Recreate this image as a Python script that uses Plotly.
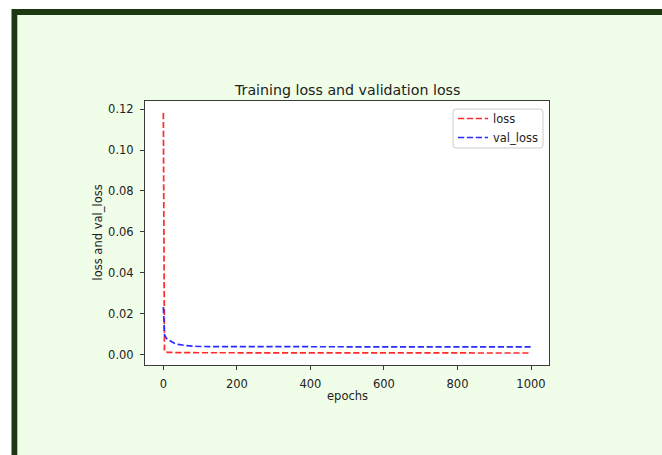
import plotly.graph_objects as go

epochs = [0, 1, 2, 3, 4, 6, 8, 12, 17, 24, 31, 40, 50, 60, 80, 100,
          150, 200, 300, 400, 500, 600, 700, 800, 900, 999]
loss = [0.1181, 0.0160, 0.0030, 0.0017, 0.0014, 0.00120, 0.00112, 0.00104,
        0.00098, 0.00094, 0.00091, 0.00089, 0.00087, 0.00086, 0.00084, 0.00083,
        0.00081, 0.00080, 0.00078, 0.00077, 0.00076, 0.00075, 0.00074, 0.00073,
        0.00072, 0.00072]
val_loss = [0.0232, 0.0135, 0.0108, 0.0098, 0.0093, 0.0086, 0.0080, 0.0074,
            0.0068, 0.0060, 0.0054, 0.0049, 0.0046, 0.0044, 0.0041, 0.0039,
            0.00385, 0.00380, 0.00378, 0.00376, 0.00375, 0.00374, 0.00373,
            0.00372, 0.00372, 0.00372]

y_ticks = [0.00, 0.02, 0.04, 0.06, 0.08, 0.10, 0.12]
x_ticks = [0, 200, 400, 600, 800, 1000]

W, H = 662, 455
L, R, T, B = 145, 549, 101, 365          # plot area in pixels
FONT = "DejaVu Sans"
TXT = "#222222"
BG = "#f0fde8"
FRAME = "#1b3812"
TICK_SIZE = 11.5
TITLE_SIZE = 14.2


def px_x(p):
    return (p - L) / (R - L)


def px_y(p):
    return (B - p) / (B - T)


def padded(vals, frac=0.05):
    lo, hi = min(vals), max(vals)
    span = hi - lo
    return [lo - frac * span, hi + frac * span]


def rounded_rect(x0, y0, x1, y1, r):
    """SVG path (pixel coords converted to paper) for a rounded box."""
    pts = [
        f"M {px_x(x0 + r)},{px_y(y0)}",
        f"L {px_x(x1 - r)},{px_y(y0)}",
        f"Q {px_x(x1)},{px_y(y0)} {px_x(x1)},{px_y(y0 + r)}",
        f"L {px_x(x1)},{px_y(y1 - r)}",
        f"Q {px_x(x1)},{px_y(y1)} {px_x(x1 - r)},{px_y(y1)}",
        f"L {px_x(x0 + r)},{px_y(y1)}",
        f"Q {px_x(x0)},{px_y(y1)} {px_x(x0)},{px_y(y1 - r)}",
        f"L {px_x(x0)},{px_y(y0 + r)}",
        f"Q {px_x(x0)},{px_y(y0)} {px_x(x0 + r)},{px_y(y0)} Z",
    ]
    return " ".join(pts)


dash = "6.2px,2.7px"
fig = go.Figure()
fig.add_trace(go.Scatter(x=epochs, y=loss, mode="lines", name="loss",
                         line=dict(color="#ff2b2b", width=1.7, dash=dash)))
fig.add_trace(go.Scatter(x=epochs, y=val_loss, mode="lines", name="val_loss",
                         line=dict(color="#2b2bff", width=1.7, dash=dash)))

axis_common = dict(
    showgrid=False, zeroline=False, showline=True, linecolor="#3a3a3a",
    linewidth=1, mirror=True, ticks="outside", ticklen=4, tickwidth=1,
    tickcolor="#3a3a3a", tickfont=dict(family=FONT, size=TICK_SIZE, color=TXT),
    ticklabelstandoff=4,
)

fig.update_xaxes(range=padded(epochs), tickvals=x_ticks,
                 ticktext=[str(v) for v in x_ticks], **axis_common)
fig.update_yaxes(range=padded(loss + val_loss), tickvals=y_ticks,
                 ticktext=[f"{v:.2f}" for v in y_ticks], **axis_common)

shapes = [
    # page frame: dark border with pale green panel
    dict(type="rect", xref="paper", yref="paper", layer="below",
         x0=px_x(11.5), x1=px_x(W + 20), y0=px_y(H + 20), y1=px_y(9),
         fillcolor=FRAME, line=dict(width=0)),
    dict(type="rect", xref="paper", yref="paper", layer="below",
         x0=px_x(17.3), x1=px_x(W + 20), y0=px_y(H + 20), y1=px_y(15),
         fillcolor=BG, line=dict(width=0)),
    # axes face
    dict(type="rect", xref="paper", yref="paper", layer="below",
         x0=0, x1=1, y0=0, y1=1, fillcolor="white", line=dict(width=0)),
    # legend frame
    dict(type="path", xref="paper", yref="paper", layer="below",
         path=rounded_rect(453, 109, 543, 148, 3),
         fillcolor="white", line=dict(color="#cccccc", width=1)),
]

annotations = [
    dict(text="Training loss and validation loss", xref="paper", yref="paper",
         x=0.5, y=px_y(90), xanchor="center", yanchor="middle", showarrow=False,
         font=dict(family=FONT, size=TITLE_SIZE, color=TXT)),
    dict(text="epochs", xref="paper", yref="paper",
         x=0.5, y=px_y(396), xanchor="center", yanchor="middle", showarrow=False,
         font=dict(family=FONT, size=TICK_SIZE, color=TXT)),
    dict(text="loss and val_loss", xref="paper", yref="paper",
         x=px_x(97.5), y=0.5, xanchor="center", yanchor="middle", textangle=-90,
         showarrow=False, font=dict(family=FONT, size=TICK_SIZE, color=TXT)),
]

fig.update_layout(
    width=W, height=H, autosize=False,
    margin=dict(l=L, r=W - R, t=T, b=H - B, pad=0),
    paper_bgcolor="white", plot_bgcolor="rgba(0,0,0,0)",
    shapes=shapes, annotations=annotations,
    font=dict(family=FONT, size=TICK_SIZE, color=TXT),
    showlegend=True,
    legend=dict(x=px_x(453), y=px_y(104), xanchor="left", yanchor="top",
                bgcolor="rgba(0,0,0,0)", borderwidth=0,
                font=dict(family=FONT, size=TICK_SIZE, color=TXT)),
)

fig.write_html("out.html")
